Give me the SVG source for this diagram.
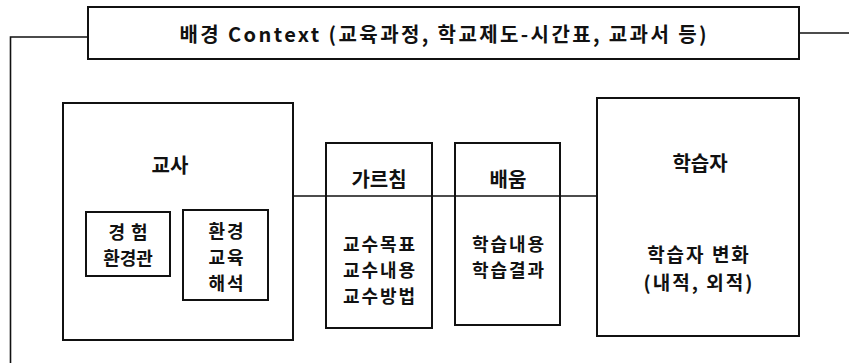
<svg xmlns="http://www.w3.org/2000/svg" width="849" height="363" viewBox="0 0 849 363">
<style>
.box{fill:#fff;stroke:#111;stroke-width:2}
.ln{fill:none;stroke:#111;stroke-width:1.6}
text{font-family:"Noto Sans CJK KR","Noto Sans",sans-serif;font-size:20px;font-weight:bold;fill:#111;text-anchor:middle;dominant-baseline:central}
.s{font-size:18px;letter-spacing:2px}
</style>
<rect width="849" height="363" fill="#fff"/>
<g id="context">
<rect class="box" x="88" y="7" width="711" height="52"/>
<text x="443" y="33" font-size="18" textLength="527" lengthAdjust="spacing">배경 Context (교육과정, 학교제도-시간표, 교과서 등)</text>
</g>
<g id="teacher">
<rect class="box" x="63" y="103" width="230" height="237"/>
<text x="170" y="164">교사</text>
</g>
<g id="experience">
<rect class="box" x="86" y="212" width="84" height="64"/>
<text class="s" x="131" y="231" style="letter-spacing:6px">경험</text>
<text class="s" x="128" y="257" style="letter-spacing:0">환경관</text>
</g>
<g id="interpret">
<rect class="box" x="183" y="210" width="85" height="90"/>
<text class="s" x="227" y="230">환경</text>
<text class="s" x="227" y="256">교육</text>
<text class="s" x="227" y="282">해석</text>
</g>
<g id="teaching">
<rect class="box" x="326" y="143" width="106" height="185"/>
<text x="379" y="178">가르침</text>
<text class="s" x="380" y="243">교수목표</text>
<text class="s" x="380" y="269">교수내용</text>
<text class="s" x="380" y="295">교수방법</text>
</g>
<g id="learning">
<rect class="box" x="455" y="143" width="105" height="182"/>
<text x="508" y="178">배움</text>
<text class="s" x="509" y="243">학습내용</text>
<text class="s" x="509" y="269">학습결과</text>
</g>
<g id="learner">
<rect class="box" x="597" y="98" width="202" height="238"/>
<text x="700" y="162">학습자</text>
<text class="s" x="699" y="253" style="font-size:19px">학습자 변화</text>
<text class="s" x="699" y="281" style="font-size:19px">(내적, 외적)</text>
</g>
<g id="connectors">
<path class="ln" d="M88,37 H10.5 V363"/>
<path class="ln" d="M799,33 H849"/>
<path class="ln" d="M293,196 H597"/>
</g>
</svg>
